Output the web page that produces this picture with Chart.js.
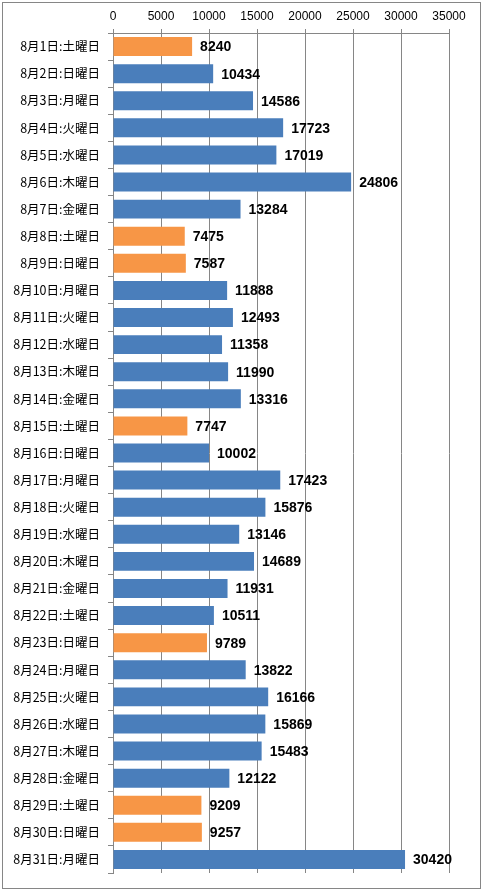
<!DOCTYPE html>
<html>
<head>
<meta charset="utf-8">
<script src="https://cdn.jsdelivr.net/npm/chart.js@4"></script>
<style>
html,body{margin:0;padding:0;background:#fff;}
#wrap{width:483px;height:891px;position:relative;}
</style>
</head>
<body>
<div id="wrap"><canvas id="c" width="483" height="891"></canvas></div>
<script>
const categories = [
  "8月1日:土曜日","8月2日:日曜日","8月3日:月曜日","8月4日:火曜日","8月5日:水曜日",
  "8月6日:木曜日","8月7日:金曜日","8月8日:土曜日","8月9日:日曜日","8月10日:月曜日",
  "8月11日:火曜日","8月12日:水曜日","8月13日:木曜日","8月14日:金曜日","8月15日:土曜日",
  "8月16日:日曜日","8月17日:月曜日","8月18日:火曜日","8月19日:水曜日","8月20日:木曜日",
  "8月21日:金曜日","8月22日:土曜日","8月23日:日曜日","8月24日:月曜日","8月25日:火曜日",
  "8月26日:水曜日","8月27日:木曜日","8月28日:金曜日","8月29日:土曜日","8月30日:日曜日",
  "8月31日:月曜日"
];
const values = [
  8240,10434,14586,17723,17019,24806,13284,7475,7587,11888,
  12493,11358,11990,13316,7747,10002,17423,15876,13146,14689,
  11931,10511,9789,13822,16166,15869,15483,12122,9209,9257,
  30420
];
const highlightedDays = [1,8,9,15,23,29,30];
const axisMin = 0;
const axisMax = 35000;
const axisStep = 5000;

const BLUE = '#4A7EBB';
const ORANGE = '#F79646';
const GRID = '#868686';

const barColors = categories.map((c, i) => highlightedDays.includes(i + 1) ? ORANGE : BLUE);

const frameAndLabels = {
  id: 'frameAndLabels',
  beforeDraw(chart) {
    const ctx = chart.ctx;
    ctx.save();
    ctx.fillStyle = '#fff';
    ctx.fillRect(0, 0, chart.width, chart.height);
    ctx.strokeStyle = GRID;
    ctx.lineWidth = 1;
    ctx.strokeRect(2.5, 2.5, chart.width - 5, chart.height - 5);
    ctx.restore();
  },
  afterDatasetsDraw(chart) {
    const ctx = chart.ctx;
    const meta = chart.getDatasetMeta(0);
    ctx.save();
    ctx.font = 'bold 14px "Liberation Sans", Arial, sans-serif';
    ctx.fillStyle = '#000';
    ctx.textAlign = 'left';
    ctx.textBaseline = 'middle';
    meta.data.forEach((bar, i) => {
      ctx.fillText(String(chart.data.datasets[0].data[i]), bar.x + 8, bar.y + 1);
    });
    ctx.restore();
  }
};

new Chart(document.getElementById('c'), {
  type: 'bar',
  data: {
    labels: categories,
    datasets: [{
      data: values,
      backgroundColor: barColors,
      borderWidth: 0,
      categoryPercentage: 1,
      barPercentage: 0.7
    }]
  },
  options: {
    indexAxis: 'y',
    responsive: false,
    animation: false,
    layout: { padding: { left: 0, right: 34, top: 0, bottom: 18 } },
    plugins: { legend: { display: false }, tooltip: { enabled: false } },
    scales: {
      x: {
        position: 'top',
        min: axisMin,
        max: axisMax,
        afterFit(s) { s.height = 33; },
        ticks: {
          stepSize: axisStep,
          color: '#000',
          padding: 5,
          font: { family: '"Liberation Sans", Arial, sans-serif', size: 12 },
          maxRotation: 0,
          callback: (v) => String(v)
        },
        grid: { color: GRID, tickLength: 4, drawTicks: true },
        border: { display: true, color: GRID }
      },
      y: {
        afterFit(s) { s.width = 113; },
        ticks: {
          color: '#000',
          padding: 8,
          autoSkip: false,
          font: { family: '"Noto Sans CJK JP", sans-serif', size: 12.5 }
        },
        grid: { drawOnChartArea: false, tickLength: 5, color: GRID, offset: true },
        border: { display: true, color: GRID }
      }
    }
  },
  plugins: [frameAndLabels]
});
</script>
</body>
</html>
